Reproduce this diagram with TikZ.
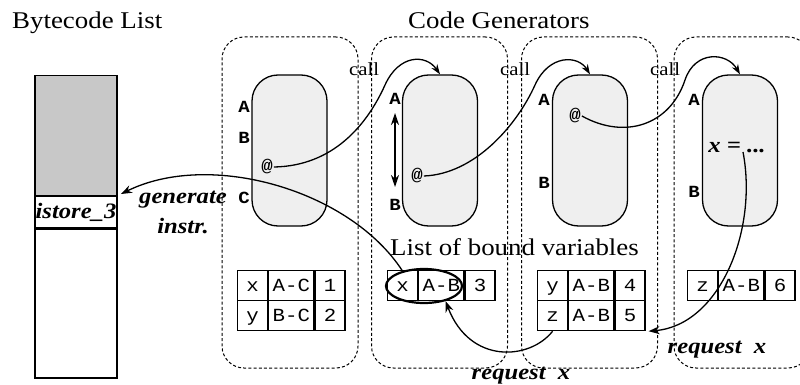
\documentclass[tikz,border=0pt]{standalone}
\usepackage{fontspec}
\setmainfont{Liberation Serif}[FakeStretch=1.12]
\setmonofont{Liberation Mono}[FakeStretch=1.12]
\usetikzlibrary{arrows.meta,shapes.geometric}
\definecolor{bcgray}{HTML}{C8C8C8}
\definecolor{genfill}{HTML}{EFEFEF}
\newcommand\trow[6]{%
  \node[cell, minimum width=30pt] (#1-a) at (#2,#3) {#4};
  \node[cell, minimum width=45pt] (#1-b) at (#1-a.north east) {#5};
  \node[cell, minimum width=30pt] (#1-c) at (#1-b.north east) {#6};}
\begin{document}
\begin{tikzpicture}[x=1pt,y=-1pt,
  dbox/.style={draw, dash pattern=on 3pt off 2.2pt, line width=1pt, rounded corners=22pt,
    minimum width=136pt, minimum height=331pt, inner sep=0},
  gen/.style={draw, fill=genfill, line width=1.3pt, rounded corners=26pt,
    minimum width=75pt, minimum height=151pt, inner sep=0},
  cell/.style={draw, line width=1.2pt, inner sep=0, minimum height=30pt, text height=11pt,
    text depth=0pt, font=\fontsize{18.5}{20}\ttfamily, anchor=north west},
  bcbox/.style={draw, line width=1.2pt, minimum width=82pt, inner sep=0, anchor=north},
  lbl/.style={font=\fontsize{17}{20}\ttfamily\bfseries, inner sep=0, anchor=base},
  atl/.style={font=\fontsize{17}{20}\ttfamily\bfseries, inner sep=1pt},
  ttl/.style={font=\fontsize{24}{28}\selectfont, inner sep=0, anchor=base west},
  bi/.style={font=\fontsize{22}{30}\selectfont\bfseries\itshape, inner sep=0},
  callt/.style={font=\fontsize{18.5}{20}\selectfont, inner sep=0, anchor=base west},
  conn/.style={line width=1.3pt, -{Stealth[length=10pt,width=7pt]}},
  req/.style={line width=1.3pt, -{Stealth[length=11pt,width=8pt]}},
  dbl/.style={line width=1.3pt, {Stealth[length=12pt,width=8pt]}-{Stealth[length=12pt,width=8pt]}}]
\useasboundingbox (0,0) rectangle (800,385);

% titles
\node[ttl] (t1) at (12,29) {Bytecode List};
\node[ttl] (t2) at (408,28.5) {Code Generators};

% dashed generator frames
\node[dbox] (f1) at (290,202.5) {};
\node[dbox] (f2) at (439.5,202.5) {};
\node[dbox] (f3) at (589.5,202.5) {};
\node[dbox] (f4) at (742,202.5) {};

% call labels
\node[callt] (c1) at (349,76) {call};
\node[callt] (c2) at (500,76) {call};
\node[callt] (c3) at (650,76) {call};

% bytecode list
\node[bcbox, fill=bcgray, minimum height=120pt] (bctop) at (76,75) {};
\node[bcbox, bi, minimum height=31pt] (bcrow) at (bctop.south) {istore\_3};
\node[bcbox, minimum height=149pt] (bcbot) at (bcrow.south) {};

% generators
\node[gen] (g1) at (289.5,150.5) {};
\node[gen] (g2) at (440,150.5) {};
\node[gen] (g3) at (590,150.5) {};
\node[gen] (g4) at (740,150.5) {};

% labels
\node[lbl] (a1) at (244,113) {A};
\node[lbl] (b1) at (244,143) {B};
\node[lbl] (cc1) at (244,203) {C};
\node[lbl] (a2) at (395,105) {A};
\node[lbl] (b2) at (395,210) {B};
\node[lbl] (a3) at (544,106) {A};
\node[lbl] (b3) at (544,188) {B};
\node[lbl] (a4) at (694,106) {A};
\node[lbl] (b4) at (694,197) {B};
\node[atl] (at1) at (267,167) {@};
\node[atl] (at2) at (417,176) {@};
\node[atl] (at3) at (575,116) {@};
\node[bi, anchor=base] (xeq) at (737,153) {x = ...};

\coordinate (da) at (395,113);
\coordinate (db) at (395,187);
\draw[dbl] (da) -- (db);

% list of bound variables
\node[ttl] (lbv) at (390,255) {List of bound variables};
\trow{t1r1}{237}{270}{x}{A-C}{1}
\trow{t1r2}{237}{300}{y}{B-C}{2}
\trow{t2r1}{387}{270}{x}{A-B}{3}
\trow{t3r1}{537}{270}{y}{A-B}{4}
\trow{t3r2}{537}{300}{z}{A-B}{5}
\trow{t4r1}{687}{270}{z}{A-B}{6}
\node[draw, ellipse, line width=2.2pt, minimum width=76pt, minimum height=34pt, inner sep=0] (ell) at (424,286) {};

% text labels
\node[bi, align=center] (gen) at (183,212) {generate\\instr.};
\node[bi, anchor=base] (rq1) at (717,353) {request~~x};
\node[bi, anchor=base] (rq2) at (521,379) {request~~x};

% call arrows
\coordinate (m1) at (385,85);
\coordinate (m2) at (535,85);
\coordinate (m3) at (685,80);
\draw[conn] (at1.east) .. controls (333,166) and (367,125) .. (m1)
  .. controls (399,54) and (426,54) .. (g2.north);
\draw[conn] (at2.east) .. controls (475,174) and (517,125) .. (m2)
  .. controls (549,54) and (578,55) .. (g3.north);
\draw[conn] (at3.east) .. controls (625,140) and (670,125) .. (m3)
  .. controls (695,50) and (727,52) .. (g4.north);

% generate arrow
\coordinate (bcin) at (121,194);
\draw[req] (ell.145) .. controls (350,190) and (210,150) .. (bcin);

% request arrows
\coordinate (xs) at (743,152);
\draw[req] (xs) .. controls (758,230) and (720,325) .. ([xshift=3pt]t3r2-c.south east);
\draw[req] (t3r2-a.south) .. controls (530,360) and (470,365) .. (ell.-35);
\end{tikzpicture}
\end{document}
